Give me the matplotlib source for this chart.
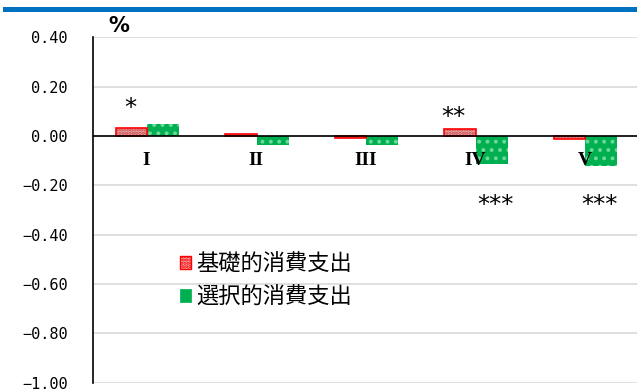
import matplotlib.pyplot as plt
from matplotlib.patches import Patch
import numpy as np

categories = ['I', 'II', 'III', 'IV', 'V']
basic = [0.034, 0.007, -0.009, 0.027, -0.011]
selective = [0.050, -0.036, -0.036, -0.114, -0.120]
series_names = ['基礎的消費支出', '選択的消費支出']
yticks = [0.40, 0.20, 0.00, -0.20, -0.40, -0.60, -0.80, -1.00]

RED = '#FF0000'
GREEN = '#00B050'

plt.rcParams['hatch.linewidth'] = 1.6

fig = plt.figure(figsize=(6.37, 3.89), dpi=100)
ax = fig.add_axes([92.7 / 637, 6.4 / 389, 1 - 92.7 / 637, 345.2 / 389])

x = np.arange(len(categories))
w = 0.29

# red series: pink fill with dotted pattern and red outline
ax.bar(x - w / 2, basic, w, color='#EBA8A8', edgecolor='#C84848', hatch='.....',
       linewidth=0, zorder=3)
ax.bar(x - w / 2, basic, w, color='none', edgecolor=RED, linewidth=1.2, zorder=4)

# green series: solid green with pale dots
ax.bar(x + w / 2, selective, w, color=GREEN, edgecolor='none', zorder=3)
ax.bar(x + w / 2, selective, w, color='none', edgecolor='#6CD99A', hatch='..',
       linewidth=0, zorder=4)

ax.set_xlim(-0.5, -0.5 + (637 - 92.7) / 109.5)
ax.set_ylim(-1.0, 0.4)
ax.set_yticks(yticks)
ax.set_yticklabels([f'{v:.2f}'.replace('-', '\u2212') for v in yticks],
                   family='DejaVu Sans Mono', fontsize=11)
ax.tick_params(axis='y', length=0, pad=18)
ax.set_xticks([])
ax.grid(axis='y', color='#D9D9D9', linewidth=1.2, zorder=0)
ax.axhline(0, color='black', linewidth=1.2, zorder=5)
for s in ['top', 'right', 'bottom']:
    ax.spines[s].set_visible(False)
ax.spines['left'].set_linewidth(1.2)
ax.spines['left'].set_zorder(6)

# category labels sit just under the zero line
for i, c in enumerate(categories):
    ax.text(i - 0.01, -0.098, c, ha='center', va='center', family='Liberation Serif',
            fontweight='bold', fontsize=14, zorder=7)

# significance marks
star_kw = dict(ha='center', va='center', fontsize=17.5, family='DejaVu Sans', zorder=7)
ax.text(-0.16, 0.112, '*', **star_kw)
ax.text(2.79, 0.077, '**', **star_kw)
ax.text(3.18, -0.278, '***', **star_kw)
ax.text(4.13, -0.278, '***', **star_kw)

fig.text(119 / 637, 1 - 26 / 389, '%', ha='center', va='center', fontsize=15,
         fontweight='semibold')

handles = [Patch(facecolor='#EBA8A8', edgecolor=RED, hatch='.....', linewidth=1.0),
           Patch(facecolor=GREEN, edgecolor=GREEN, linewidth=0.5)]
leg = fig.legend(handles, series_names, loc='center left',
                 bbox_to_anchor=(180 / 637, 1 - 280.5 / 389), frameon=False,
                 prop={'family': ['Noto Sans CJK JP', 'DejaVu Sans'], 'size': 16},
                 handlelength=0.5, handleheight=0.5, handletextpad=0.25,
                 labelspacing=0.45, borderpad=0, borderaxespad=0)

# blue rule along the top
fig.add_artist(plt.Line2D([5 / 637, 1], [1 - 8.5 / 389] * 2, color='#0070C0',
                          linewidth=3.6, transform=fig.transFigure))

fig.savefig('out.png', dpi=100)
